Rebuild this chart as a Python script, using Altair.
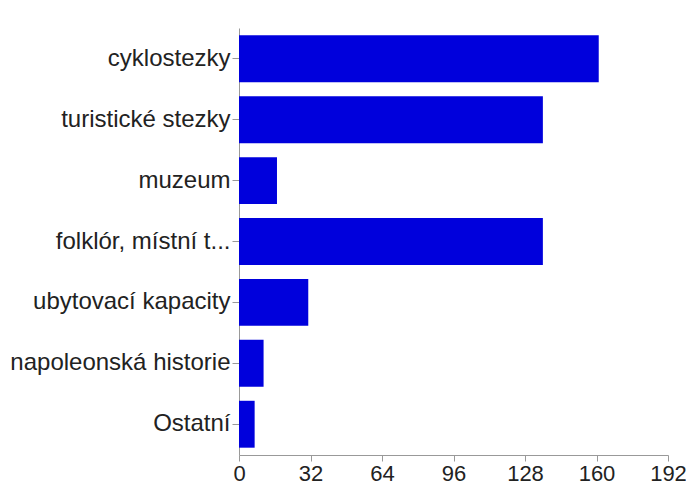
import altair as alt
import pandas as pd

categories = ["cyklostezky", "turistické stezky", "muzeum", "folklór, místní t...",
              "ubytovací kapacity", "napoleonská historie", "Ostatní"]
values = [161, 136, 17, 136, 31, 11, 7]
x_ticks = [0, 32, 64, 96, 128, 160, 192]

df = pd.DataFrame({"kategorie": categories, "pocet": values})

chart = alt.Chart(df).mark_bar(color="#0000DC").encode(
    y=alt.Y("kategorie:N", sort=categories, title=None,
            scale=alt.Scale(paddingInner=0.23, paddingOuter=0.12),
            axis=alt.Axis(labelFontSize=24, labelFont="Liberation Sans", labelColor="#222",
                          domainColor="#999", tickColor="#999", tickSize=7, labelPadding=2,
                          labelLimit=400)),
    x=alt.X("pocet:Q", title=None,
            scale=alt.Scale(domain=[0, 192], nice=False),
            axis=alt.Axis(values=x_ticks, grid=False, labelFontSize=22, labelFont="Liberation Sans",
                          labelColor="#222", domainColor="#999", tickColor="#999", tickSize=6,
                          labelPadding=2, labelOverlap=False, labelFlush=False)),
).properties(
    width=429, height=427,
    autosize=alt.AutoSizeParams(type="none"),
    padding={"left": 231, "top": 20, "right": 18, "bottom": 30},
).configure_view(stroke=None)

chart.save("out.html", embed_options={"renderer": "svg", "actions": False})
